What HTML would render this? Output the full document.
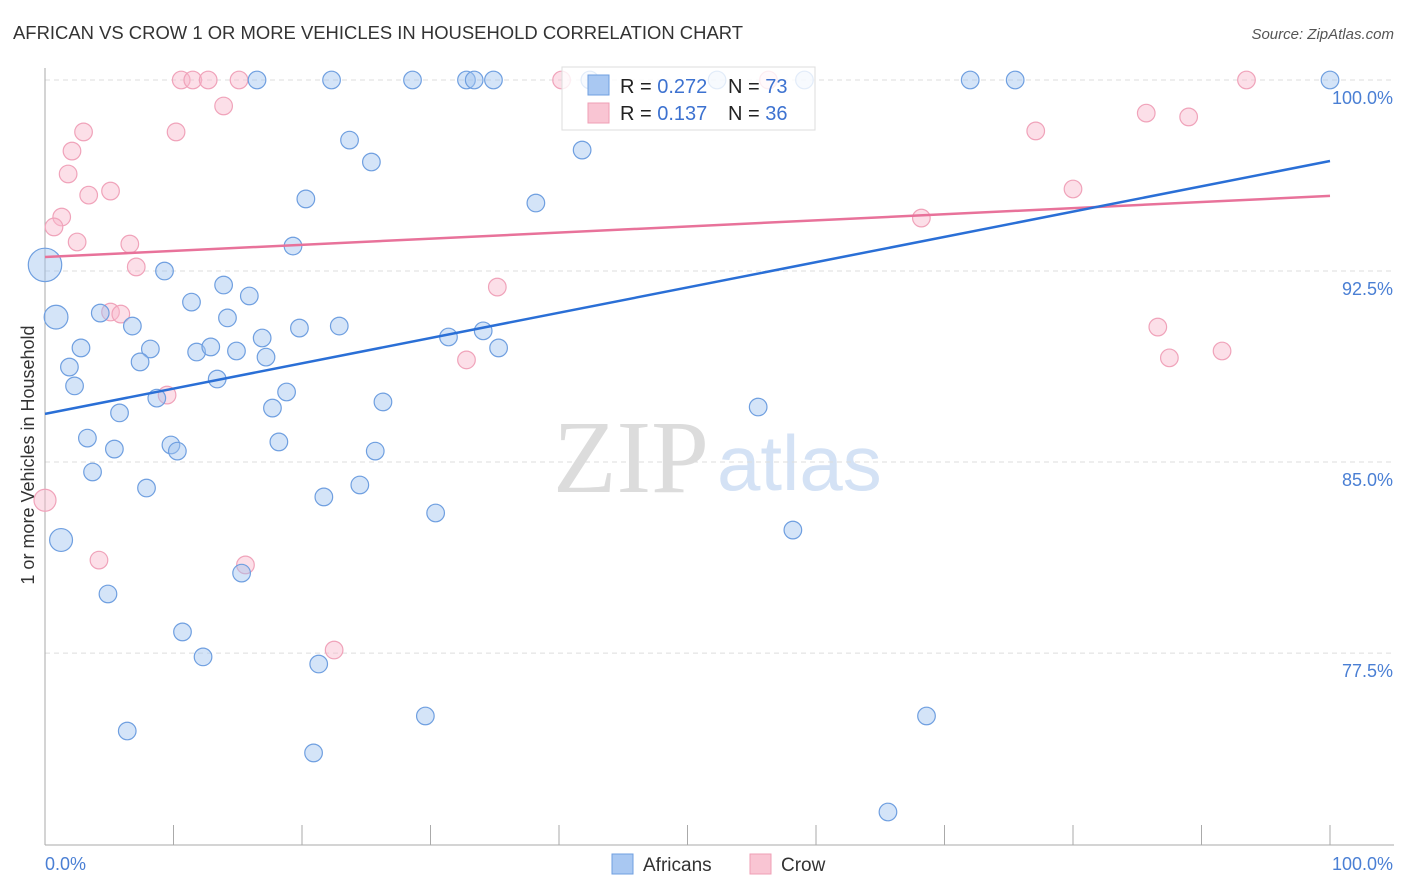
<!DOCTYPE html>
<html><head><meta charset="utf-8"><style>
body{margin:0;background:#fff;font-family:"Liberation Sans",sans-serif;}
svg{display:block}
</style></head><body>
<svg id="chart" width="1406" height="892">
<text x="13" y="39" font-size="18" fill="#333" textLength="730" lengthAdjust="spacingAndGlyphs">AFRICAN VS CROW 1 OR MORE VEHICLES IN HOUSEHOLD CORRELATION CHART</text>
<text x="1394" y="39" font-size="15" fill="#555" font-style="italic" text-anchor="end">Source: ZipAtlas.com</text>
<g>
<text x="553" y="492" font-size="104" fill="#dcdcdc" font-family="Liberation Serif,serif">ZIP</text>
<text x="717" y="490" font-size="78" fill="#d4e2f5">atlas</text>
</g>
<g id="grid"></g>
<g id="axes"></g>
<g id="marks"></g>
<g>
<rect x="562" y="67" width="253" height="63" fill="rgba(255,255,255,0.8)" stroke="#ddd"/>
<rect x="588" y="75" width="21" height="20" fill="#a9c8f2" stroke="#6f9fe0"/>
<rect x="588" y="103" width="21" height="20" fill="#f9c5d3" stroke="#ef9fb6"/>
<text x="620" y="93" font-size="20" fill="#222">R = <tspan fill="#3d72d0">0.272</tspan></text>
<text x="728" y="93" font-size="20" fill="#222">N = <tspan fill="#3d72d0">73</tspan></text>
<text x="620" y="120" font-size="20" fill="#222">R = <tspan fill="#3d72d0"> 0.137</tspan></text>
<text x="728" y="120" font-size="20" fill="#222">N = <tspan fill="#3d72d0">36</tspan></text>
</g>
<g>
<rect x="612" y="854" width="21" height="20" fill="#a9c8f2" stroke="#6f9fe0"/>
<text x="643" y="871" font-size="19" fill="#333">Africans</text>
<rect x="750" y="854" width="21" height="20" fill="#f9c5d3" stroke="#ef9fb6"/>
<text x="781" y="871" font-size="19" fill="#333">Crow</text>
</g>
<text transform="translate(34,455) rotate(-90)" font-size="18" fill="#333" text-anchor="middle">1 or more Vehicles in Household</text>
</svg>
<script>
const yTicks=[100,92.5,85,77.5];
const yTickLabels=["100.0%","92.5%","85.0%","77.5%"];
const xLabels=["0.0%","100.0%"];
const africansX=[0,0.86,1.25,16.5,22.3,28.6,32.8,33.4,34.9,42.4,52.3,59.1,72.0,75.5,100,23.7,25.4,41.8,20.3,38.2,19.3,9.3,13.9,15.9,11.4,4.3,14.2,6.8,19.8,22.9,16.9,31.4,34.1,2.8,8.2,11.8,12.9,14.9,17.2,35.3,1.9,7.4,13.4,2.3,18.8,8.7,26.3,17.7,5.8,55.5,3.3,9.8,18.2,5.4,10.3,25.7,3.7,7.9,24.5,21.7,30.4,58.2,15.3,4.9,10.7,12.3,21.3,29.6,68.6,6.4,20.9,65.6];
const africansY=[92.74,90.69,81.94,100,100,100,100,100,100,100,100,100,100,100,100,97.64,96.78,97.25,95.33,95.17,93.48,92.5,91.95,91.52,91.28,90.85,90.66,90.34,90.26,90.34,89.87,89.91,90.15,89.48,89.44,89.32,89.52,89.36,89.12,89.48,88.73,88.93,88.26,87.99,87.75,87.51,87.36,87.12,86.93,87.16,85.94,85.67,85.79,85.51,85.43,85.43,84.61,83.98,84.10,83.63,83.0,82.33,80.64,79.82,78.33,77.35,77.07,75.03,75.03,74.44,73.58,71.26];
const africansSize=[1.9,1.35,1.3];
const crowX=[0,10.6,11.5,12.7,15.1,40.2,56.3,93.5,13.9,3.0,10.2,2.1,1.8,3.4,5.1,1.3,0.7,2.5,6.6,7.1,5.1,5.9,35.2,32.8,9.5,4.2,15.6,22.5,77.1,85.7,89.0,80.0,68.2,86.6,87.5,91.6];
const crowY=[83.5,100,100,100,100,100,100,100,98.98,97.96,97.96,97.21,96.31,95.48,95.64,94.62,94.23,93.64,93.56,92.66,90.89,90.81,91.87,89.01,87.63,81.15,80.96,77.62,98.0,98.7,98.55,95.72,94.58,90.3,89.09,89.36];
const africansTrend=[86.89,96.82];
const crowTrend=[93.05,95.45];

const NS="http://www.w3.org/2000/svg";
const X=v=>45+v*12.85;
const Y=v=>80+(100-v)*25.47;
function mk(tag,attrs,parent){const e=document.createElementNS(NS,tag);for(const k in attrs)e.setAttribute(k,attrs[k]);parent.appendChild(e);return e;}
const grid=document.getElementById('grid'),axes=document.getElementById('axes'),marks=document.getElementById('marks');
yTicks.forEach((t,i)=>{
 const l=mk('line',{x1:45,x2:1394,y1:Y(t),y2:Y(t),stroke:'#ddd','stroke-dasharray':'5,4'},grid);
 
 
 const tx=mk('text',{x:1393,y:Y(t)+24,'font-size':18,fill:'#4a7fd4','text-anchor':'end'},axes);
 tx.textContent=yTickLabels[i];
 
 
});
let a=mk('line',{x1:45,x2:45,y1:68,y2:845,stroke:'#aaa'},axes);


a=mk('line',{x1:45,x2:1394,y1:845,y2:845,stroke:'#aaa'},axes);


for(let i=0;i<=10;i++){
 const t=mk('line',{x1:X(i*10),x2:X(i*10),y1:825,y2:845,stroke:'#aaa'},axes);
 
 
}
[[0,'start',45],[100,'end',1393]].forEach((d,i)=>{
 const t=mk('text',{x:d[2],y:870,'font-size':18,fill:'#4a7fd4','text-anchor':d[1]},axes);
 t.textContent=xLabels[i];
 
 
});
crowX.forEach((x,i)=>{
 const c=mk('circle',{cx:X(x),cy:Y(crowY[i]),r:i==0?11:8.8,fill:'rgba(248,185,203,0.45)',stroke:'#f0a3ba','stroke-width':1.2},marks);
 
 
});
africansX.forEach((x,i)=>{
 const c=mk('circle',{cx:X(x),cy:Y(africansY[i]),r:8.8*(africansSize[i]||1),fill:'rgba(160,195,240,0.45)',stroke:'#6f9fe0','stroke-width':1.2},marks);
 
 
});
let tl=mk('line',{x1:X(0),y1:Y(crowTrend[0]),x2:X(100),y2:Y(crowTrend[1]),stroke:'#e8729a','stroke-width':2.5},marks);


tl=mk('line',{x1:X(0),y1:Y(africansTrend[0]),x2:X(100),y2:Y(africansTrend[1]),stroke:'#2a6fd6','stroke-width':2.5},marks);


</script>
</body></html>
